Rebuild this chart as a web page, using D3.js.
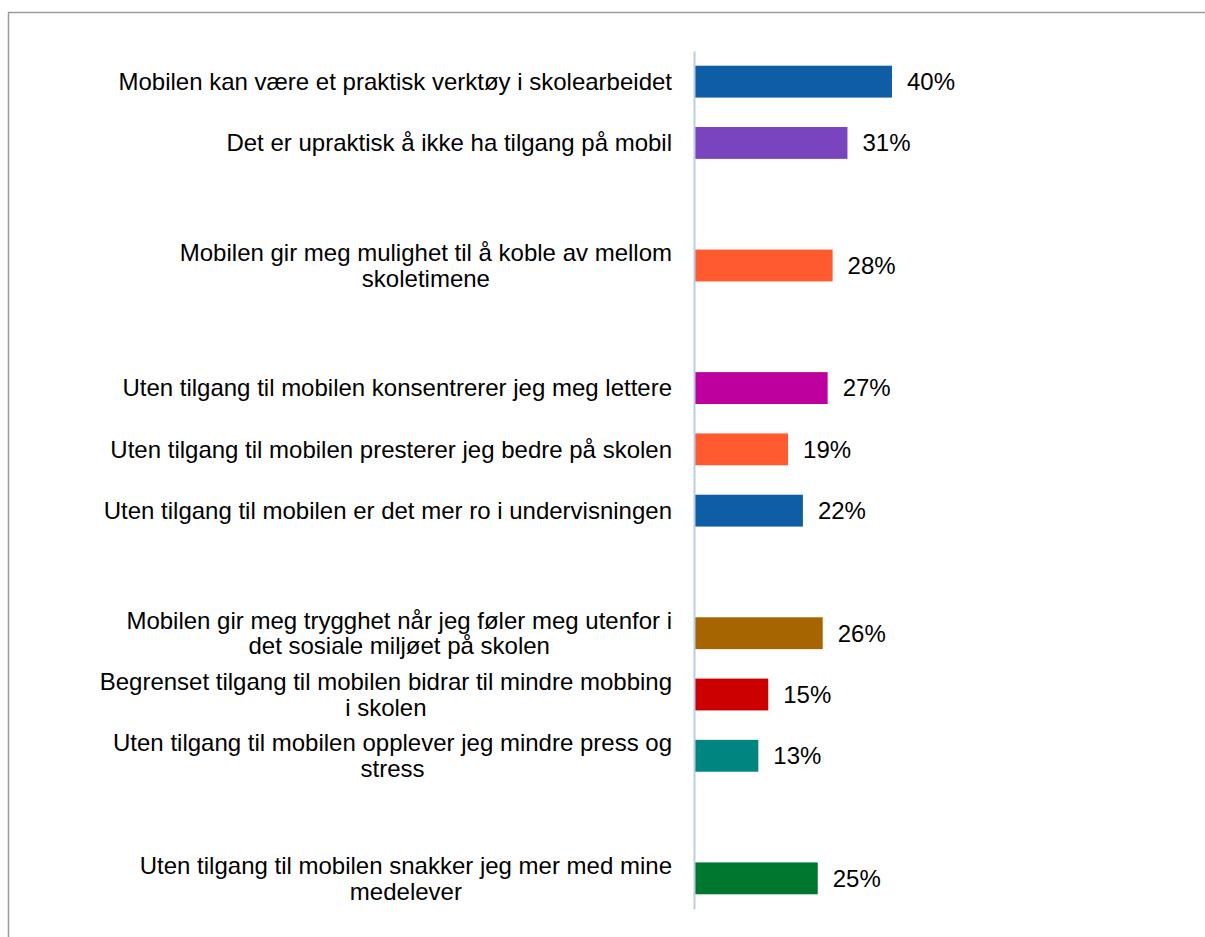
<!DOCTYPE html>
<html>
<head>
<meta charset="utf-8">
<script src="https://cdn.jsdelivr.net/npm/d3@7"></script>
<style>
  body { margin: 0; background: #fff; }
  svg { display: block; font-family: "Liberation Sans", Arial, sans-serif; }
</style>
</head>
<body>
<svg width="1205" height="937"></svg>
<script>
// empty strings are the blank spacer rows in the original chart
const categories = [
    "Mobilen kan være et praktisk verktøy i skolearbeidet",
    "Det er upraktisk å ikke ha tilgang på mobil",
    "",
    "Mobilen gir meg mulighet til å koble av mellom\nskoletimene",
    " ",
    "Uten tilgang til mobilen  konsentrerer jeg meg lettere",
    "Uten tilgang til mobilen presterer jeg bedre på skolen",
    "Uten tilgang til mobilen er det mer ro i undervisningen",
    "  ",
    "Mobilen gir meg trygghet når jeg føler meg utenfor i\ndet sosiale miljøet på skolen",
    "Begrenset tilgang til mobilen bidrar til mindre mobbing\ni skolen",
    "Uten tilgang til mobilen opplever jeg mindre press og\nstress",
    "   ",
    "Uten tilgang til mobilen snakker jeg mer med mine\nmedelever"
]
const values = [0.40, 0.31, null, 0.28, null, 0.27, 0.19, 0.22, null, 0.26, 0.15, 0.13, null, 0.25]
const colors = ["#0E5DA5", "#7B44BF", null, "#FF5A30", null, "#BE009E", "#FF5A30", "#0E5DA5", null,
                "#A66500", "#CC0000", "#008580", null, "#00772E"]

let svg = d3.select("svg")
let fontSize = "24px"

// outer frame
svg.append("path")
    .attr("d", "M8.5,940 L8.5,12.5 L1210,12.5")
    .attr("fill", "none")
    .attr("stroke", "#9a9a9a")
    .attr("stroke-width", 1.5)

let x0 = 694
let xScale = d3.scaleLinear()
    .domain([0, 1])
    .range([x0, x0 + 495])

let yScale = d3.scaleBand()
    .domain(categories)
    .range([51, 909])
    .paddingInner(0.48)
    .paddingOuter(0.24)

let rows = categories.map((c, i) => ({ cat: c, v: values[i], color: colors[i] }))
    .filter(d => d.v != null)

svg.selectAll("rect.bar")
    .data(rows)
    .enter()
    .append("rect")
    .attr("class", "bar")
    .attr("x", xScale(0))
    .attr("y", d => yScale(d.cat))
    .attr("width", d => xScale(d.v) - xScale(0))
    .attr("height", yScale.bandwidth())
    .attr("fill", d => d.color)

// value labels
svg.selectAll("text.val")
    .data(rows)
    .enter()
    .append("text")
    .attr("class", "val")
    .attr("x", d => xScale(d.v) + 15)
    .attr("y", d => yScale(d.cat) + yScale.bandwidth() / 2)
    .attr("dy", "0.35em")
    .style("font-size", fontSize)
    .attr("fill", "#000")
    .text(d => d3.format(".0%")(d.v))

// category labels, wrapped lines centred inside a right aligned block
let lineH = 25.5
rows.forEach(d => {
    let lines = d.cat.split("\n")
    let cy = yScale(d.cat) + yScale.bandwidth() / 2
    let g = svg.append("g")
    let texts = lines.map((l, i) => g.append("text")
        .attr("y", cy + (i - (lines.length - 1) / 2) * lineH)
        .attr("dy", "0.35em")
        .style("font-size", fontSize)
        .attr("fill", "#000")
        .text(l))
    let widths = texts.map(t => t.node().getComputedTextLength())
    let maxW = d3.max(widths)
    let right = 672
    texts.forEach(t => {
        t.attr("x", right - maxW / 2).attr("text-anchor", "middle")
    })
})

// vertical category axis
let yAxis = d3.axisLeft(yScale).tickSize(0).tickFormat("")
let yAxisGroup = svg.append("g")
    .attr("transform", `translate(${x0}, 0)`)
    .call(yAxis)
yAxisGroup.select(".domain")
    .attr("stroke", "#B9CDE5")
    .attr("stroke-width", 2)
</script>
</body>
</html>
